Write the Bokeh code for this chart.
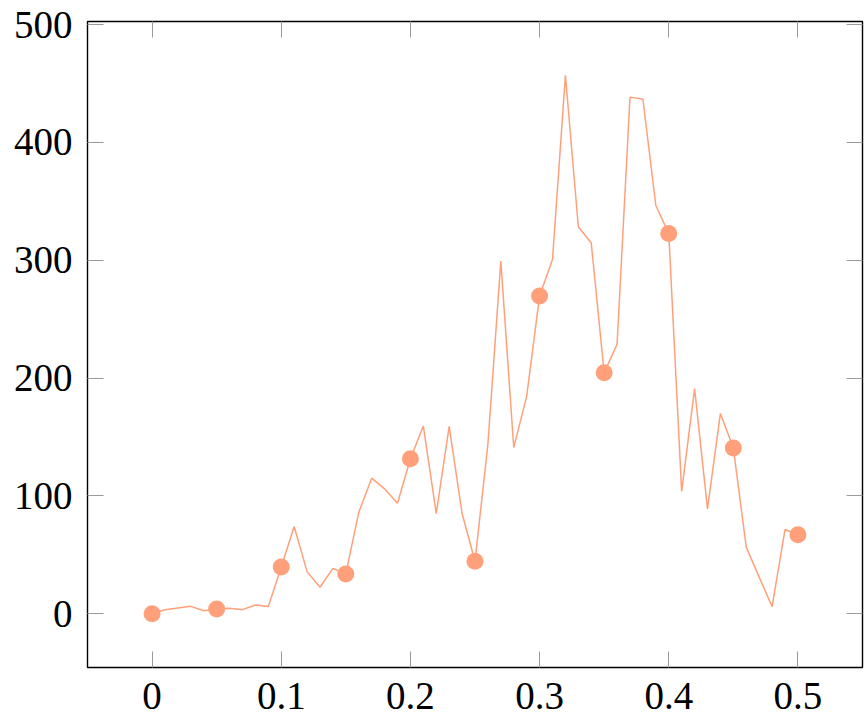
from bokeh.plotting import figure
from bokeh.models import Range1d, LinearAxis, FixedTicker, CustomLabelingPolicy
from bokeh.embed import file_html
from bokeh.resources import INLINE

# Data (x step 0.01, markers every 0.05)
x_vals = [0.00, 0.01, 0.02, 0.03, 0.04, 0.05, 0.06, 0.07, 0.08, 0.09,
          0.10, 0.11, 0.12, 0.13, 0.14, 0.15, 0.16, 0.17, 0.18, 0.19,
          0.20, 0.21, 0.22, 0.23, 0.24, 0.25, 0.26, 0.27, 0.28, 0.29,
          0.30, 0.31, 0.32, 0.33, 0.34, 0.35, 0.36, 0.37, 0.38, 0.39,
          0.40, 0.41, 0.42, 0.43, 0.44, 0.45, 0.46, 0.47, 0.48, 0.49,
          0.50]
y_vals = [0.0, 3.4, 4.8, 6.2, 2.5, 4.0, 4.5, 3.4, 7.4, 6.0,
          39.7, 74.0, 35.7, 22.4, 38.5, 33.7, 86.0, 115.0, 106.0, 93.8,
          131.5, 159.3, 85.0, 159.0, 85.0, 44.5, 144.0, 299.3, 141.0, 184.5,
          269.6, 300.7, 457.0, 328.5, 314.6, 204.5, 228.8, 438.5, 436.6, 346.5,
          322.8, 103.8, 191.0, 89.0, 170.0, 140.7, 56.5, 31.0, 6.0, 71.4,
          67.0]
mark_every = 5
x_ticks = [0, 0.1, 0.2, 0.3, 0.4, 0.5]
x_tick_labels = {0: "0", 0.1: "0.1", 0.2: "0.2", 0.3: "0.3", 0.4: "0.4", 0.5: "0.5"}
y_ticks = [0, 100, 200, 300, 400, 500]

color = "#FFA07A"
font = "Liberation Serif"
fsize = "39px"
tick_color = "#9a9a9a"

xmin, xmax = min(x_vals), max(x_vals)
ymin, ymax = min(y_vals), max(y_vals)
xpad = 0.1 * (xmax - xmin)
ypad = 0.1 * (ymax - ymin)

p = figure(width=864, height=720, output_backend="svg", toolbar_location=None,
           x_range=Range1d(xmin - xpad, xmax + xpad),
           y_range=Range1d(ymin - ypad, ymax + ypad),
           min_border_left=87, min_border_right=2, min_border_top=21, min_border_bottom=53)

p.grid.visible = False
p.outline_line_color = "black"
p.outline_line_width = 1.4
p.background_fill_color = "white"
p.border_fill_color = "white"

p.line(x_vals, y_vals, line_color=color, line_width=1.5)
p.scatter(x_vals[::mark_every], y_vals[::mark_every], size=17, fill_color=color,
          line_color=color, line_width=0)

no_labels = CustomLabelingPolicy(code="return new Set()")


def style(ax, labels=True):
    ax.axis_line_color = None
    ax.major_tick_in = 16
    ax.major_tick_out = 0
    ax.minor_tick_line_color = None
    ax.major_tick_line_color = tick_color
    ax.major_tick_line_width = 1
    if labels:
        ax.major_label_text_font = font
        ax.major_label_text_font_size = fsize
        ax.major_label_text_color = "black"
    else:
        ax.major_label_standoff = 0
        ax.major_label_text_font_size = "1px"
        ax.major_label_policy = no_labels


p.xaxis.ticker = FixedTicker(ticks=x_ticks)
p.xaxis.major_label_overrides = x_tick_labels
p.yaxis.ticker = FixedTicker(ticks=y_ticks)
style(p.xaxis[0])
style(p.yaxis[0])
p.xaxis.major_label_standoff = 15
p.yaxis.major_label_standoff = 15

top = LinearAxis(ticker=FixedTicker(ticks=x_ticks),
                 major_label_overrides={t: "" for t in x_ticks})
right = LinearAxis(ticker=FixedTicker(ticks=y_ticks),
                   major_label_overrides={t: "" for t in y_ticks})
style(top, labels=False)
style(right, labels=False)
p.add_layout(top, "above")
p.add_layout(right, "right")

open("out.html", "w").write(file_html(p, INLINE))
